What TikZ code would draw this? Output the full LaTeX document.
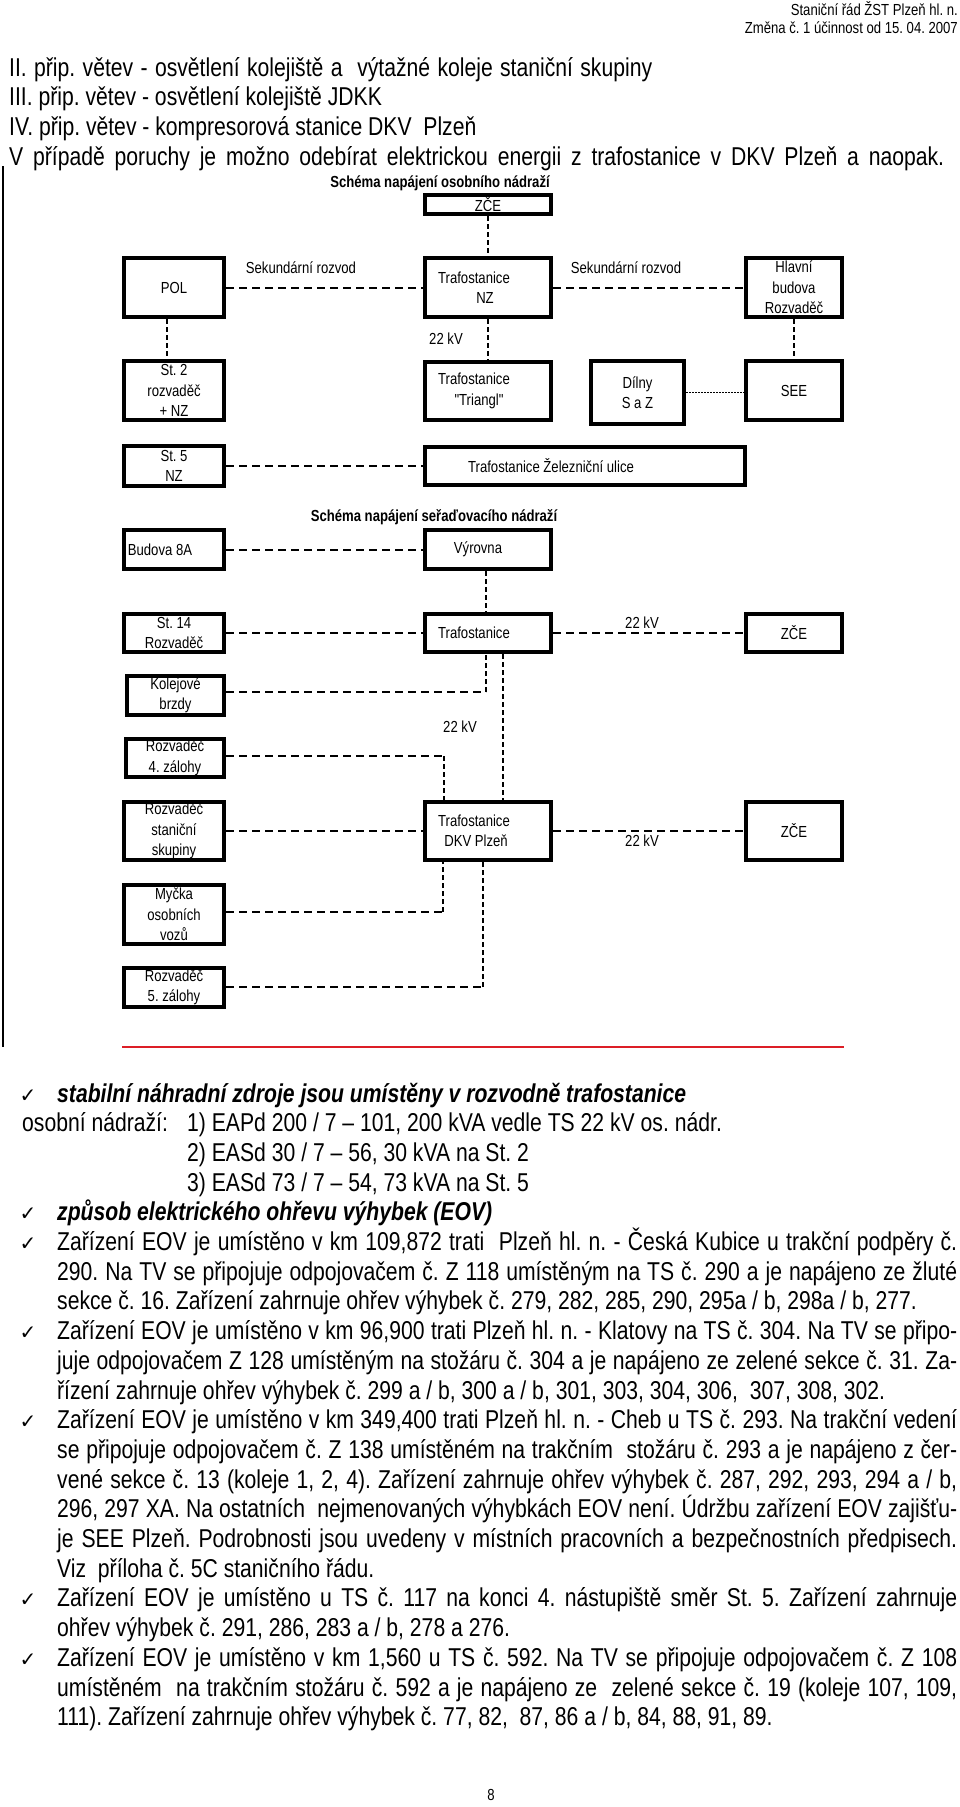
\documentclass[tikz,border=0pt]{standalone}
\usepackage{fontspec}
\setmainfont[FakeStretch=0.82]{Liberation Sans}
\newfontfamily\plainfont[FakeStretch=0.82]{Liberation Sans}
\newfontfamily\checkfont{DejaVu Sans}
\usepackage{tikz}
\definecolor{rulered}{RGB}{220,30,38}
\newcommand\diagfont{\fontsize{16}{20.5}\selectfont}
\newcommand\bodyfont{\fontsize{25.8}{29.7}\selectfont}
\newcommand\smallhead{\fontsize{16}{18}\selectfont}
\newcommand\justline[1]{\makebox[900pt][s]{#1}}
\frenchspacing

\begin{document}
\begin{tikzpicture}[x=1pt,y=1pt,yscale=-1,
  box/.style={draw,line width=4pt,inner sep=0pt,align=center,font=\diagfont},
  hdash/.style={line width=2pt,dash pattern=on 8pt off 5pt},
  vdash/.style={line width=2.5pt,dash pattern=on 5pt off 3pt},
  fdot/.style={line width=1pt,dash pattern=on 1.5pt off 1.5pt},
  lbl/.style={font=\diagfont,inner sep=0pt},
  schemetitle/.style={font=\diagfont\bfseries,inner sep=0pt},
  bodyline/.style={anchor=base west,font=\bodyfont,inner sep=0pt},
  checkmark/.style={anchor=base,font=\checkfont\fontsize{20}{20}\selectfont,inner sep=0pt}]
\path[use as bounding box] (0,0) rectangle (960,1807);

% Header
\node[anchor=base east,font=\smallhead,inner sep=0pt] (hdr1) at (958,15.5) {Staniční řád ŽST Plzeň hl. n.};
\node[anchor=base east,font=\smallhead,inner sep=0pt] (hdr2) at (958,33.5) {Změna č. 1 účinnost od 15. 04. 2007};

% Text Node
\node[bodyline] (top1) at (9,76) {\makebox[643pt][s]{II. přip. větev - osvětlení kolejiště a \ výtažné koleje staniční skupiny}};
\node[bodyline] (top2) at (9,105) {III. přip. větev - osvětlení kolejiště JDKK};
\node[bodyline] (top3) at (9,135) {IV. přip. větev - kompresorová stanice DKV \ Plzeň};
\node[bodyline] (top4) at (9,165) {\makebox[935pt][s]{V případě poruchy je možno odebírat elektrickou energii z trafostanice v DKV Plzeň a naopak.}};

% page rule
\draw[line width=1.5pt] (3,166) -- (3,1047);

%Shape: schema osobniho nadrazi
\node[schemetitle] (tit1) at (440,183) {Schéma napájení osobního nádraží};
\node[box,minimum width=126,minimum height=19] (zce1) at (488,204.5) {ZČE};
\node[box,minimum width=100,minimum height=59] (pol) at (174,287.5) {POL};
\node[box,minimum width=126,minimum height=59] (nz) at (488,287.5) {Trafostanice\hspace*{28pt}\\NZ\hspace*{6pt}};
\node[box,minimum width=96,minimum height=59] (hlavni) at (794,287.5) {Hlavní\\budova\\Rozvaděč};
\node[box,minimum width=100,minimum height=59] (st2) at (174,390.5) {St. 2\\rozvaděč\\+ NZ};
\node[box,minimum width=126,minimum height=58] (triangl) at (488,391) {Trafostanice\hspace*{28pt}\\{\plainfont"Triangl"}\hspace*{18pt}};
\node[box,minimum width=93,minimum height=63] (dilny) at (637.5,392.5) {Dílny\\S a Z};
\node[box,minimum width=96,minimum height=59] (see) at (794,390.5) {SEE};
\node[box,minimum width=100,minimum height=40] (st5) at (174,466) {St. 5\\NZ};
\node[box,minimum width=320,minimum height=38] (zel) at (585,466) {Trafostanice Železniční ulice\hspace*{68pt}};

% Text Node
\node[lbl] (sek1) at (301,268) {Sekundární rozvod};
\node[lbl] (sek2) at (626,268) {Sekundární rozvod};
\node[lbl] (kv1) at (446,339) {22 kV};

\draw[vdash] (zce1) -- (nz);
\draw[hdash] (pol) -- (nz);
\draw[hdash] (nz) -- (hlavni);
\draw[vdash] ([xshift=-7pt]pol.south) -- ([xshift=-7pt]st2.north);
\draw[vdash] (nz) -- (triangl);
\draw[vdash] (hlavni) -- (see);
\draw[fdot] (dilny.east) -- (dilny.east -| see.west);
\draw[hdash] (st5) -- (zel);

%Shape: schema seradovaciho nadrazi
\node[schemetitle] (tit2) at (434,517) {Schéma napájení seřaďovacího nádraží};
\node[box,minimum width=100,minimum height=39] (budova) at (174,549.5) {Budova 8A\hspace*{28pt}};
\node[box,minimum width=126,minimum height=39] (vyrovna) at (488,549.5) {Výrovna\hspace*{20pt}};
\node[box,minimum width=100,minimum height=38] (st14) at (174,633) {St. 14\\Rozvaděč};
\node[box,minimum width=126,minimum height=38] (trafo2) at (488,633) {Trafostanice\hspace*{28pt}};
\node[box,minimum width=96,minimum height=38] (zce2) at (794,633) {ZČE};
\node[box,minimum width=97,minimum height=39] (brzdy) at (175.5,695.5) {Kolejové\\brzdy};
\node[box,minimum width=98,minimum height=38] (rozv4) at (175,758) {Rozvaděč\\4. zálohy};
\node[box,minimum width=100,minimum height=58] (stanicni) at (174,831) {Rozvaděč\\staniční\\skupiny};
\node[box,minimum width=126,minimum height=58] (dkv) at (488,831) {Trafostanice\hspace*{28pt}\\DKV Plzeň\hspace*{24pt}};
\node[box,minimum width=96,minimum height=58] (zce3) at (794,831) {ZČE};
\node[box,minimum width=100,minimum height=59] (mycka) at (174,914.5) {Myčka\\osobních\\vozů};
\node[box,minimum width=100,minimum height=39] (rozv5) at (174,987.5) {Rozvaděč\\5. zálohy};

% Text Node
\node[lbl] (kv2) at (642,623) {22 kV};
\node[lbl] (kv3) at (460,727) {22 kV};
\node[lbl] (kv4) at (642,841) {22 kV};

\coordinate (kbturn) at (486,692);
\coordinate (r4turn) at (444,756);
\coordinate (mvturn) at (443,912);
\coordinate (r5turn) at (483,987);
\draw[hdash] (budova) -- (vyrovna);
\draw[vdash] ([xshift=-2pt]vyrovna.south) -- ([xshift=-2pt]trafo2.north);
\draw[hdash] (st14) -- (trafo2);
\draw[hdash] (trafo2) -- (zce2);
\draw[hdash] (brzdy.east |- kbturn) -- (kbturn);
\draw[vdash] (kbturn) -- (kbturn |- trafo2.south);
\draw[hdash] (rozv4.east |- r4turn) -- (r4turn);
\draw[vdash] (r4turn) -- (r4turn |- dkv.north);
\draw[vdash] ([xshift=15pt]trafo2.south) -- ([xshift=15pt]dkv.north);
\draw[hdash] (stanicni) -- (dkv);
\draw[hdash] (dkv) -- (zce3);
\draw[hdash] (mycka.east |- mvturn) -- (mvturn);
\draw[vdash] (mvturn) -- (mvturn |- dkv.south);
\draw[hdash] (rozv5.east |- r5turn) -- (r5turn);
\draw[vdash] (r5turn) -- (r5turn |- dkv.south);

% red rule
\draw[rulered,line width=2.5pt] (122,1047) -- (844,1047);

% Text Node
\node[checkmark] (ck1) at (28,1102) {✓};
\node[bodyline] (ln1) at (57,1102) {\bfseries\itshape stabilní náhradní zdroje jsou umístěny v rozvodně trafostanice};
\node[bodyline] (ln2a) at (22,1131.7) {osobní nádraží:};
\node[bodyline] (ln2) at (187,1131.7) {1) EAPd 200 / 7 – 101, 200 kVA vedle TS 22 kV os. nádr.};
\node[bodyline] (ln3) at (187,1161.4) {2) EASd 30 / 7 – 56, 30 kVA na St. 2};
\node[bodyline] (ln4) at (187,1191.1) {3) EASd 73 / 7 – 54, 73 kVA na St. 5};
\node[checkmark] (ck2) at (28,1220.8) {✓};
\node[bodyline] (ln5) at (57,1220.8) {\bfseries\itshape způsob elektrického ohřevu výhybek (EOV)};
\node[checkmark] (ck3) at (28,1250.5) {✓};
\node[bodyline] (ln6) at (57,1250.5) {\justline{Zařízení EOV je umístěno v km 109,872 trati \ Plzeň hl. n. - Česká Kubice u trakční podpěry č.}};
\node[bodyline] (ln7) at (57,1280.2) {\justline{290. Na TV se připojuje odpojovačem č. Z 118 umístěným na TS č. 290 a je napájeno ze žluté}};
\node[bodyline] (ln8) at (57,1309.9) {sekce č. 16. Zařízení zahrnuje ohřev výhybek č. 279, 282, 285, 290, 295a / b, 298a / b, 277.};
\node[checkmark] (ck4) at (28,1339.6) {✓};
\node[bodyline] (ln9) at (57,1339.6) {\justline{Zařízení EOV je umístěno v km 96,900 trati Plzeň hl. n. - Klatovy na TS č. 304. Na TV se připo-}};
\node[bodyline] (ln10) at (57,1369.3) {\justline{juje odpojovačem Z 128 umístěným na stožáru č. 304 a je napájeno ze zelené sekce č. 31. Za-}};
\node[bodyline] (ln11) at (57,1399) {řízení zahrnuje ohřev výhybek č. 299 a / b, 300 a / b, 301, 303, 304, 306, \ 307, 308, 302.};
\node[checkmark] (ck5) at (28,1428.7) {✓};
\node[bodyline] (ln12) at (57,1428.7) {\justline{Zařízení EOV je umístěno v km 349,400 trati Plzeň hl. n. - Cheb u TS č. 293. Na trakční vedení}};
\node[bodyline] (ln13) at (57,1458.4) {\justline{se připojuje odpojovačem č. Z 138 umístěném na trakčním \ stožáru č. 293 a je napájeno z čer-}};
\node[bodyline] (ln14) at (57,1488.1) {\justline{vené sekce č. 13 (koleje 1, 2, 4). Zařízení zahrnuje ohřev výhybek č. 287, 292, 293, 294 a / b,}};
\node[bodyline] (ln15) at (57,1517.8) {\justline{296, 297 XA. Na ostatních \ nejmenovaných výhybkách EOV není. Údržbu zařízení EOV zajišťu-}};
\node[bodyline] (ln16) at (57,1547.5) {\justline{je SEE Plzeň. Podrobnosti jsou uvedeny v místních pracovních a bezpečnostních předpisech.}};
\node[bodyline] (ln17) at (57,1577.2) {Viz \ příloha č. 5C staničního řádu.};
\node[checkmark] (ck6) at (28,1606.9) {✓};
\node[bodyline] (ln18) at (57,1606.9) {\justline{Zařízení EOV je umístěno u TS č. 117 na konci 4. nástupiště směr St. 5. Zařízení zahrnuje}};
\node[bodyline] (ln19) at (57,1636.6) {ohřev výhybek č. 291, 286, 283 a / b, 278 a 276.};
\node[checkmark] (ck7) at (28,1666.3) {✓};
\node[bodyline] (ln20) at (57,1666.3) {\justline{Zařízení EOV je umístěno v km 1,560 u TS č. 592. Na TV se připojuje odpojovačem č. Z 108}};
\node[bodyline] (ln21) at (57,1696) {\justline{umístěném \ na trakčním stožáru č. 592 a je napájeno ze \ zelené sekce č. 19 (koleje 107, 109,}};
\node[bodyline] (ln22) at (57,1725.7) {111). Zařízení zahrnuje ohřev výhybek č. 77, 82, \ 87, 86 a / b, 84, 88, 91, 89.};

% page number
\node[anchor=base,font=\smallhead,inner sep=0pt] (pgno) at (491,1800) {8};
\end{tikzpicture}
\end{document}
